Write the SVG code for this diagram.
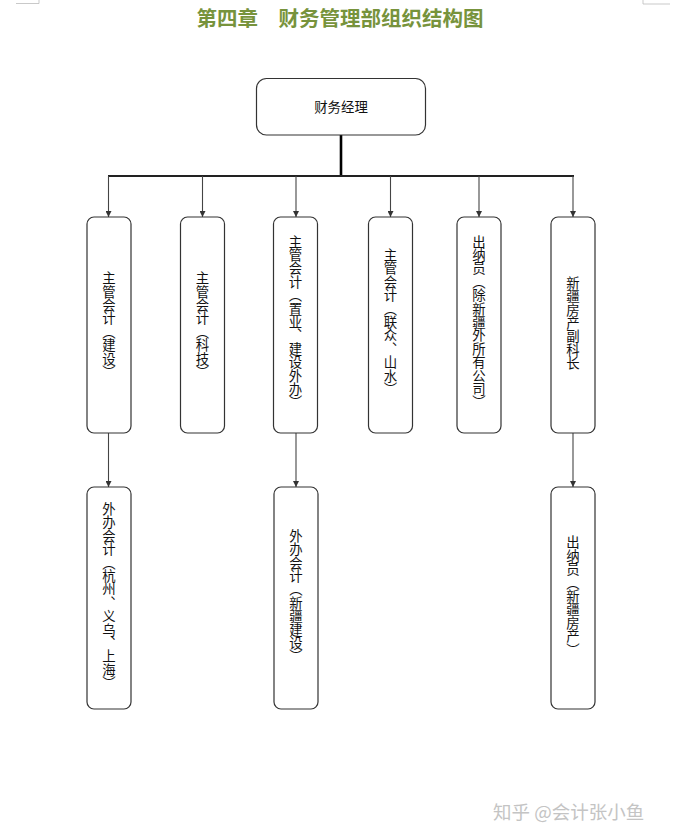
<svg xmlns="http://www.w3.org/2000/svg" width="679" height="840" viewBox="0 0 679 840">
<style>
.box{fill:#fff;stroke:#333;stroke-width:1.2}
.t{font-family:"Noto Sans CJK SC","Liberation Sans",sans-serif;font-size:13.4px;fill:#111}
.v{writing-mode:vertical-rl;text-anchor:middle}
.ln{fill:none;stroke:#444;stroke-width:1.1}
</style>
<defs>
<marker id="ah" viewBox="0 0 8 8" refX="8" refY="4" markerWidth="6" markerHeight="6" markerUnits="userSpaceOnUse" orient="auto">
<path d="M0,0 L8,4 L0,8 z" fill="#333"/>
</marker>
</defs>
<rect width="679" height="840" fill="#fff"/>
<g id="corner-marks" stroke="#bbb" stroke-width="0.8" fill="none">
<path d="M16,3.5 H39 V0"/>
<path d="M643,0 V4 H670"/>
</g>
<text x="340" y="26" text-anchor="middle" font-family="'Noto Sans CJK SC',sans-serif" font-weight="bold" font-size="20.5" fill="#77933C">第四章　财务管理部组织结构图</text>
<g id="connectors">
<line x1="341" y1="135" x2="341" y2="176" stroke="#000" stroke-width="2.6"/>
<line x1="108" y1="176" x2="574" y2="176" stroke="#222" stroke-width="1.8"/>
<line class="ln" x1="108.5" y1="176" x2="108.5" y2="217" marker-end="url(#ah)"/>
<line class="ln" x1="202.5" y1="176" x2="202.5" y2="217" marker-end="url(#ah)"/>
<line class="ln" x1="296" y1="176" x2="296" y2="217" marker-end="url(#ah)"/>
<line class="ln" x1="390.5" y1="176" x2="390.5" y2="217" marker-end="url(#ah)"/>
<line class="ln" x1="479" y1="176" x2="479" y2="217" marker-end="url(#ah)"/>
<line class="ln" x1="573" y1="176" x2="573" y2="217" marker-end="url(#ah)"/>
<line class="ln" x1="108.5" y1="433" x2="108.5" y2="487" marker-end="url(#ah)"/>
<line class="ln" x1="296" y1="433" x2="296" y2="487" marker-end="url(#ah)"/>
<line class="ln" x1="573" y1="433" x2="573" y2="487" marker-end="url(#ah)"/>
</g>
<g id="n0"><rect class="box" x="256.5" y="78.5" width="169" height="56.5" rx="10"/><text class="t" x="341" y="112" text-anchor="middle" font-size="14">财务经理</text></g>
<g id="n1"><rect class="box" x="87" y="217" width="44" height="216" rx="7"/><text class="t v" x="109" y="325">主管会计（建设）</text></g>
<g id="n2"><rect class="box" x="180.5" y="217" width="44" height="216" rx="7"/><text class="t v" x="202.5" y="325">主管会计（科技）</text></g>
<g id="n3"><rect class="box" x="273.5" y="217" width="44" height="216" rx="7"/><text class="t v" x="295.5" y="322">主管会计（置业、建设外办）</text></g>
<g id="n4"><rect class="box" x="368.5" y="217" width="44" height="216" rx="7"/><text class="t v" x="390.5" y="322">主管会计（联众、山水）</text></g>
<g id="n5"><rect class="box" x="457" y="217" width="44" height="216" rx="7"/><text class="t v" x="479" y="322">出纳员（除新疆外所有公司）</text></g>
<g id="n6"><rect class="box" x="551" y="217" width="44" height="216" rx="7"/><text class="t v" x="573" y="323">新疆房产副科长</text></g>
<g id="n7"><rect class="box" x="87" y="487" width="44" height="222" rx="7"/><text class="t v" x="109" y="596">外办会计（杭州、义乌、上海）</text></g>
<g id="n8"><rect class="box" x="274" y="487" width="44" height="222" rx="7"/><text class="t v" x="296" y="596">外办会计（新疆建设）</text></g>
<g id="n9"><rect class="box" x="551" y="487" width="44" height="222" rx="7"/><text class="t v" x="573" y="596">出纳员（新疆房产）</text></g>
<text x="493" y="819" font-family="'Noto Sans CJK SC',sans-serif" font-size="18.5" fill="#c4c4c4">知乎 @会计张小鱼</text>
</svg>
